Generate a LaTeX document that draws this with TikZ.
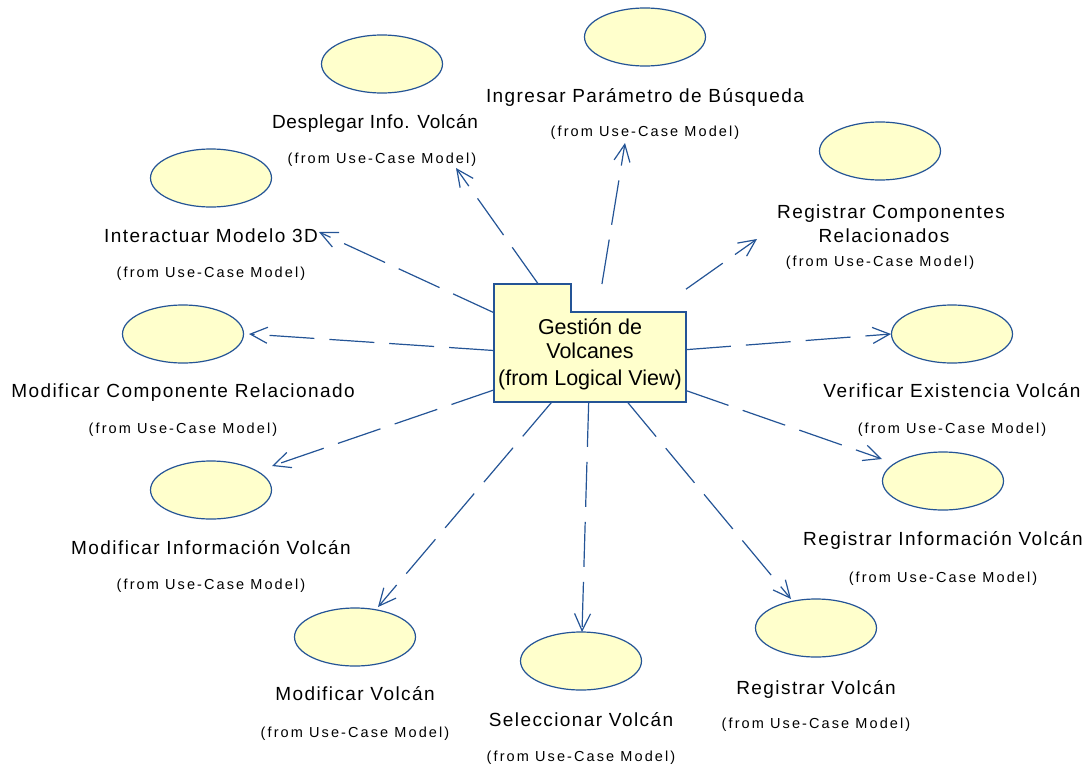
\documentclass[tikz,border=0pt]{standalone}
\usepackage{fontspec}
\setmainfont{Liberation Sans}
\newfontfamily\ucfont[LetterSpace=7.5]{Liberation Sans}
\newfontfamily\fromfont[LetterSpace=14.5]{Liberation Sans}
\usetikzlibrary{arrows.meta,intersections,shapes.geometric}
\definecolor{umlblue}{RGB}{36,84,150}
\definecolor{umlfill}{RGB}{255,255,204}

\begin{document}
\begin{tikzpicture}[x=1pt,y=-1pt,
  usecase/.style={ellipse, draw=umlblue, fill=umlfill, line width=1.2pt,
    minimum width=121pt, minimum height=58pt, inner sep=0pt},
  ucname/.style={anchor=base, inner sep=0pt, font=\ucfont\fontsize{19}{23}\selectfont},
  ucfrom/.style={anchor=base, inner sep=0pt, font=\fromfont\fontsize{14.5}{17}\selectfont},
  pkgbody/.style={draw=umlblue, fill=umlfill, line width=1.2pt, minimum width=192pt,
    minimum height=90pt, inner sep=0pt, outer sep=0pt},
  pkgtext/.style={inner sep=0pt, align=center, font=\fontsize{21.5}{24}\selectfont},
  pkgedge/.style={draw=umlblue, line width=1.2pt, line join=miter},
  dep/.style={draw=umlblue, line width=1.2pt, dash pattern=on 45pt off 15pt,
    -{Straight Barb[length=17pt,width=16pt]}}
]
\useasboundingbox (0,0) rectangle (1090,766);

% use cases
\node[usecase] (uc1) at (382,64) {};
\node[ucname] (uc1name) at (375,128) {\addfontfeature{LetterSpace=3.5}Desplegar Info. Volcán};
\node[ucfrom] (uc1from) at (382,163) {(from Use-Case Model)};

\node[usecase] (uc2) at (645,37) {};
\node[ucname] (uc2name) at (645,102) {Ingresar Parámetro de Búsqueda};
\node[ucfrom] (uc2from) at (645,136) {(from Use-Case Model)};

\node[usecase] (uc3) at (211,178) {};
\node[ucname] (uc3name) at (211,242) {Interactuar Modelo 3D};
\node[ucfrom] (uc3from) at (211,277) {(from Use-Case Model)};

\node[usecase] (uc4) at (880,151) {};
\node[ucname] (uc4name) at (891,218) {Registrar Componentes};
\node[ucname] (uc4name2) at (884,242) {Relacionados};
\node[ucfrom] (uc4from) at (880,266) {(from Use-Case Model)};

\node[usecase] (uc5) at (183,334) {};
\node[ucname] (uc5name) at (183,397) {Modificar Componente Relacionado};
\node[ucfrom] (uc5from) at (183,433) {(from Use-Case Model)};

\node[usecase] (uc6) at (952,334) {};
\node[ucname] (uc6name) at (952,397) {Verificar Existencia Volcán};
\node[ucfrom] (uc6from) at (952,433) {(from Use-Case Model)};

\node[usecase] (uc7) at (211,490) {};
\node[ucname] (uc7name) at (211,554) {Modificar Información Volcán};
\node[ucfrom] (uc7from) at (211,589) {(from Use-Case Model)};

\node[usecase] (uc8) at (943,481) {};
\node[ucname] (uc8name) at (943,545) {Registrar Información Volcán};
\node[ucfrom] (uc8from) at (943,582) {(from Use-Case Model)};

\node[usecase] (uc9) at (355,637) {};
\node[ucname] (uc9name) at (355,700) {Modificar Volcán};
\node[ucfrom] (uc9from) at (355,737) {(from Use-Case Model)};

\node[usecase] (uc10) at (581,661) {};
\node[ucname] (uc10name) at (581,726) {Seleccionar Volcán};
\node[ucfrom] (uc10from) at (581,761) {(from Use-Case Model)};

\node[usecase] (uc11) at (816,628) {};
\node[ucname] (uc11name) at (816,694) {Registrar Volcán};
\node[ucfrom] (uc11from) at (816,728) {(from Use-Case Model)};

% arrow ends of the dependencies
\coordinate (t1) at (456,168);
\coordinate (t2) at (625,143);
\coordinate (t3) at (319,232);
\coordinate (t4) at (757,239);
\coordinate (t5) at (249,334);
\coordinate (t6) at (891,334);
\coordinate (t7) at (272,466);
\coordinate (t8) at (882,459);
\coordinate (t9) at (378,607);
\coordinate (t10) at (582,632);
\coordinate (t11) at (791,599);

% package: body, the tab joined to it without a seam, then its name
\node[pkgbody] (pkg) at (590,357) {};
\fill[umlfill] ([xshift=0.6pt,yshift=28pt]pkg.north west) rectangle ([xshift=76.4pt,yshift=-0.8pt]pkg.north west);
\draw[pkgedge] ([yshift=-0.8pt]pkg.north west) -- ([yshift=28pt]pkg.north west)
  -- ([xshift=77pt,yshift=28pt]pkg.north west) -- ([xshift=77pt]pkg.north west);
\node[pkgtext] (pkgname) at (590,354) {Gestión de\\Volcanes\\[3pt](from Logical View)};

% dependencies leave the package's bounding box on the ray from the body centre
\path[name path=pkgbox] ([yshift=28pt]pkg.north west) rectangle (pkg.south east);
\foreach \t in {t1,t2,t3,t4,t5,t6,t7,t8,t9,t10,t11}{
  \path[name path=ray] (pkg.center) -- (\t);
  \draw[dep, name intersections={of=pkgbox and ray, by=s}] (s) -- (\t);
}
\end{tikzpicture}
\end{document}
